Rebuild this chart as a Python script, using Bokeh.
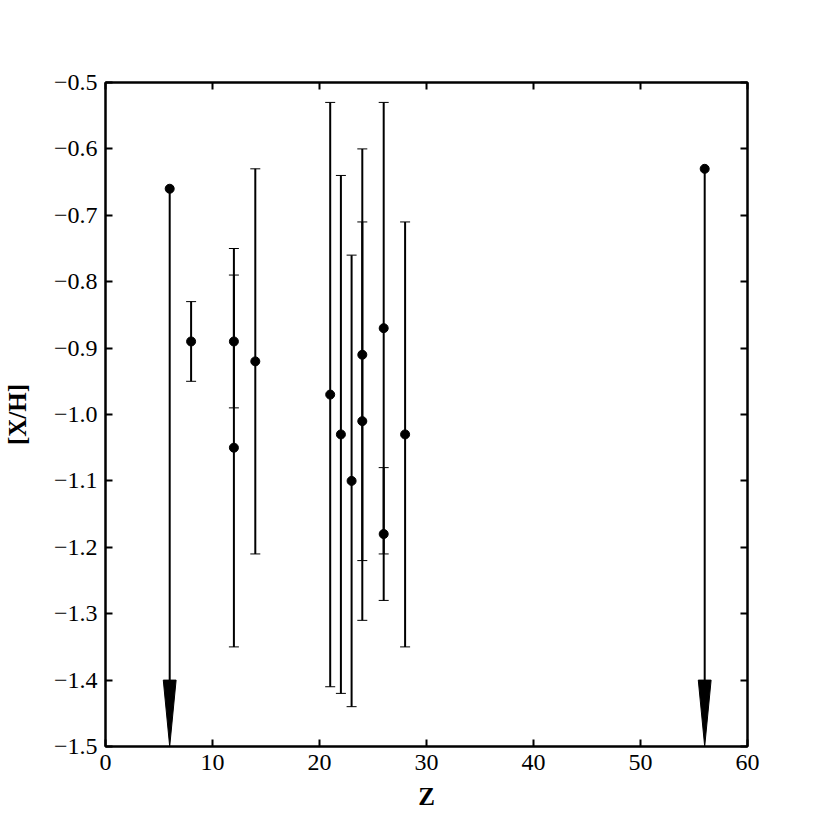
from bokeh.plotting import figure
from bokeh.models import (LinearAxis, FixedTicker, CustomJSTickFormatter, Whisker,
                          TeeHead, ColumnDataSource, Range1d)
from bokeh.embed import file_html
from bokeh.resources import INLINE

# ---- data ----
z = [8, 12, 12, 14, 21, 22, 23, 24, 24, 26, 26, 28]
xh = [-0.89, -0.89, -1.05, -0.92, -0.97, -1.03, -1.10, -0.91, -1.01, -0.87, -1.18, -1.03]
err = [0.06, 0.10, 0.30, 0.29, 0.44, 0.39, 0.34, 0.31, 0.30, 0.34, 0.10, 0.32]

z_lim = [6, 56]
xh_lim = [-0.66, -0.63]

x_ticks = [0, 10, 20, 30, 40, 50, 60]
x_tick_labels = ["0", "10", "20", "30", "40", "50", "60"]
y_ticks = [-1.5, -1.4, -1.3, -1.2, -1.1, -1.0, -0.9, -0.8, -0.7, -0.6, -0.5]
y_tick_labels = ["\u22121.5", "\u22121.4", "\u22121.3", "\u22121.2", "\u22121.1", "\u22121.0",
                 "\u22120.9", "\u22120.8", "\u22120.7", "\u22120.6", "\u22120.5"]

X_MIN, X_MAX = 0, 60
Y_MIN, Y_MAX = -1.5, -0.5

FONT = "Liberation Serif"

p = figure(frame_width=642, frame_height=664,
           x_range=Range1d(X_MIN, X_MAX), y_range=Range1d(Y_MIN, Y_MAX),
           output_backend="svg", toolbar_location=None,
           min_border_left=97, min_border_top=82, min_border_right=60, min_border_bottom=75,
           x_axis_label="Z", y_axis_label="[X/H]")
p.grid.visible = False
p.outline_line_color = "black"
p.outline_line_width = 2
p.background_fill_color = "white"
p.border_fill_color = "white"

lbl_code = ("const i = tvals.findIndex(t => Math.abs(t - tick) < 1e-9);"
            "return i >= 0 ? tlabels[i] : '';")
blank_code = "return '';"


def style_axis(ax, ticks):
    ax.ticker = FixedTicker(ticks=ticks)
    ax.axis_line_color = "black"
    ax.axis_line_width = 2
    ax.major_tick_in = 7
    ax.major_tick_out = 0
    ax.major_tick_line_width = 2
    ax.major_tick_line_color = "black"
    ax.minor_tick_in = 0
    ax.minor_tick_out = 0
    ax.major_label_text_font = FONT
    ax.major_label_text_font_size = "24px"
    ax.major_label_text_color = "black"
    ax.axis_label_text_font = FONT
    ax.axis_label_text_font_style = "bold"
    ax.axis_label_text_font_size = "25px"
    ax.axis_label_text_color = "black"


xa = p.xaxis[0]
style_axis(xa, x_ticks)
xa.formatter = CustomJSTickFormatter(args=dict(tvals=x_ticks, tlabels=x_tick_labels), code=lbl_code)
xa.major_label_standoff = 8
xa.axis_label_standoff = 10

ya = p.yaxis[0]
style_axis(ya, y_ticks)
ya.formatter = CustomJSTickFormatter(args=dict(tvals=y_ticks, tlabels=y_tick_labels), code=lbl_code)
ya.major_label_standoff = 8
ya.axis_label_standoff = 20

top = LinearAxis()
style_axis(top, x_ticks)
top.formatter = CustomJSTickFormatter(code=blank_code)
top.major_label_text_font_size = "0px"
top.major_label_standoff = 0
p.add_layout(top, "above")

right = LinearAxis()
style_axis(right, y_ticks)
right.formatter = CustomJSTickFormatter(code=blank_code)
right.major_label_text_font_size = "0px"
right.major_label_standoff = 0
p.add_layout(right, "right")

# ---- error bars ----
src = ColumnDataSource(dict(
    z=z, xh=xh,
    upper=[v + e for v, e in zip(xh, err)],
    lower=[v - e for v, e in zip(xh, err)],
))
wh = Whisker(source=src, base="z", upper="upper", lower="lower", dimension="height",
             line_color="black", line_width=2,
             upper_head=TeeHead(size=10, line_width=1, line_color="black"),
             lower_head=TeeHead(size=10, line_width=1, line_color="black"),
             level="glyph")
p.add_layout(wh)
p.scatter(x="z", y="xh", source=src, size=9, color="black")

# ---- upper limits ----
head_len = 0.1
head_hw = 0.6
head_base = Y_MIN + head_len
p.segment(x0=z_lim, y0=xh_lim, x1=z_lim, y1=[head_base] * len(z_lim),
          line_color="black", line_width=2)
p.patches(xs=[[x - head_hw, x + head_hw, x] for x in z_lim],
          ys=[[head_base, head_base, Y_MIN] for _ in z_lim],
          fill_color="black", line_color="black", line_width=1)
p.scatter(x=z_lim, y=xh_lim, size=9, color="black")

open("out.html", "w").write(file_html(p, INLINE))
